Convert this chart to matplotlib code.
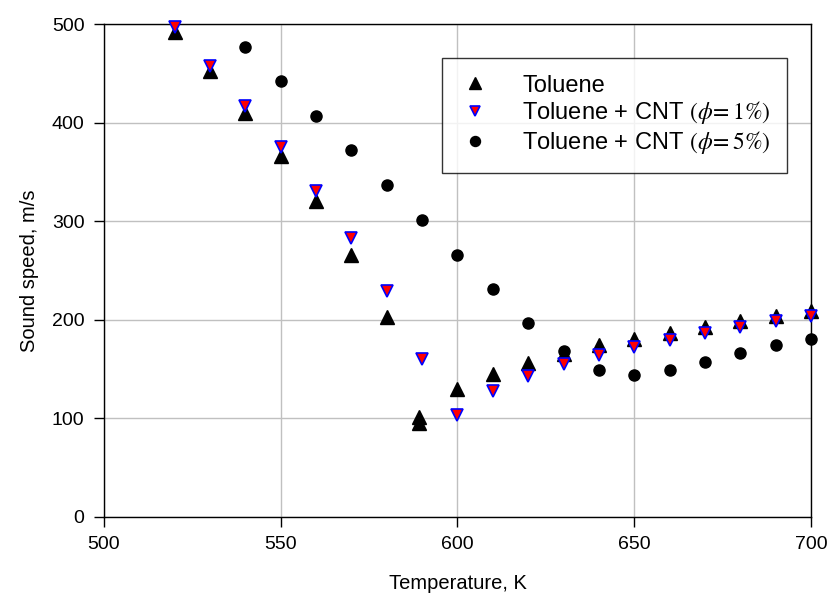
import matplotlib
matplotlib.use("Agg")
import matplotlib.pyplot as plt

plt.rcParams["font.family"] = ["Liberation Sans", "DejaVu Sans"]
plt.rcParams["mathtext.fontset"] = "stix"

# Toluene (pure)
t_tol = [520, 530, 540, 550, 560, 570, 580, 589, 589, 600, 610, 620, 630,
         640, 650, 660, 670, 680, 690, 700]
c_tol = [492, 452, 410, 366, 320, 266, 203, 101, 95, 130, 145, 156, 165,
         174, 181, 187, 193, 199, 204, 209]

# Toluene + CNT, phi = 1%
t_1 = [520, 530, 540, 550, 560, 570, 580, 590, 600, 610, 620, 630, 640,
       650, 660, 670, 680, 690, 700]
c_1 = [497, 457, 417, 375, 331, 283, 229, 160, 103, 128, 143, 155, 164,
       172, 180, 187, 193, 199, 204]

# Toluene + CNT, phi = 5%
t_5 = [540, 550, 560, 570, 580, 590, 600, 610, 620, 630, 640, 650, 660,
       670, 680, 690, 700]
c_5 = [477, 442, 407, 372, 337, 301, 266, 231, 197, 168, 149, 144, 149,
       157, 166, 174, 181]

fig = plt.figure(figsize=(8.30, 5.99), dpi=100)
ax = fig.add_axes([0.1253, 0.1369, 0.8518, 0.823])

ax.plot(t_tol, c_tol, linestyle="none", marker="^", markersize=9.5,
        color="black", label="Toluene", zorder=3, clip_on=False)
ax.plot(t_1, c_1, linestyle="none", marker="v", markersize=8.5,
        markerfacecolor="red", markeredgecolor="blue", markeredgewidth=1.2,
        label=r"Toluene + CNT $(\phi\!=1\%)$", zorder=4, clip_on=False)
ax.plot(t_5, c_5, linestyle="none", marker="o", markersize=8,
        color="black", label=r"Toluene + CNT $(\phi\!=5\%)$", zorder=3,
        clip_on=False)

ax.set_xlim(500, 700)
ax.set_ylim(0, 500)
ax.set_xticks(range(500, 701, 50))
ax.set_yticks(range(0, 501, 100))
ax.grid(True, color="#c0c0c0", linewidth=1)
ax.set_axisbelow(True)
for s in ax.spines.values():
    s.set_color("black")
    s.set_linewidth(1)
ax.tick_params(direction="out", length=7, width=1, labelsize=14, pad=7)

ax.set_xlabel("Temperature, K", fontsize=14.5, labelpad=15)
ax.set_ylabel("Sound speed, m/s", fontsize=14.5, labelpad=9)

leg = ax.legend(loc="upper left", bbox_to_anchor=(0.478, 0.931),
                borderaxespad=0, fontsize=17, frameon=True, fancybox=False,
                edgecolor="black", handletextpad=1.3, labelspacing=0.12,
                borderpad=0.7, handlelength=1.4, markerscale=0.9)
leg.get_frame().set_linewidth(1)

fig.savefig("out.png", dpi=100)
